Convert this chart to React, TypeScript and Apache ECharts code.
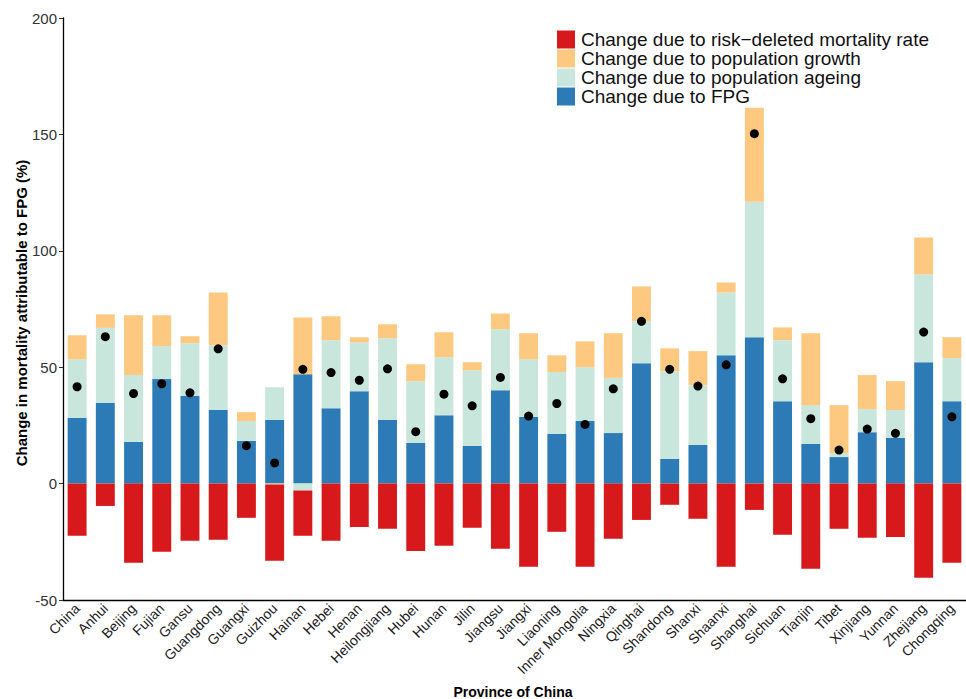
import React, { useEffect, useRef } from "react";
import * as echarts from "echarts";

const provinces = [
  "China", "Anhui", "Beijing", "Fujian", "Gansu", "Guangdong", "Guangxi", "Guizhou",
  "Hainan", "Hebei", "Henan", "Heilongjiang", "Hubei", "Hunan", "Jilin", "Jiangsu",
  "Jiangxi", "Liaoning", "Inner Mongolia", "Ningxia", "Qinghai", "Shandong", "Shanxi",
  "Shaanxi", "Shanghai", "Sichuan", "Tianjin", "Tibet", "Xinjiang", "Yunnan", "Zhejiang",
  "Chongqing",
];

const fpg = [
  28.3, 34.6, 17.9, 44.9, 37.6, 31.6, 18.3, 27.3, 47.0, 32.4, 39.7, 27.3, 17.4, 29.4, 16.1, 40.1,
  28.6, 21.3, 26.9, 21.7, 51.7, 10.6, 16.6, 55.1, 62.9, 35.4, 17.0, 11.4, 22.1, 19.6, 52.1, 35.4,
];

const ageing = [
  25.1, 32.3, 28.7, 14.2, 22.7, 27.8, 8.6, 14.1, -3.0, 29.2, 21.0, 35.1, 26.6, 24.9, 32.6, 26.2,
  24.8, 26.6, 23.1, 23.7, 18.0, 37.7, 25.7, 27.0, 58.2, 26.2, 16.7, 1.7, 9.9, 12.0, 37.8, 18.5,
];

const growth = [
  10.3, 5.8, 25.7, 13.2, 3.0, 22.7, 3.8, -0.4, 24.4, 10.3, 2.2, 6.0, 7.3, 10.7, 3.4, 6.8,
  11.2, 7.2, 11.1, 19.2, 15.0, 9.8, 14.6, 4.3, 40.3, 5.5, 30.9, 20.6, 14.6, 12.4, 15.8, 9.0,
];

const riskDeleted = [
  -22.4, -9.6, -34.0, -29.3, -24.6, -24.1, -14.7, -32.7, -19.4, -24.6, -18.6, -19.4, -28.9, -26.7,
  -19.0, -28.0, -35.7, -20.7, -35.7, -23.7, -15.6, -9.1, -15.1, -35.7, -11.3, -22.0, -36.6, -19.4,
  -23.3, -22.9, -40.4, -34.0,
];

const netChange = [
  41.6, 63.1, 38.7, 42.9, 39.0, 57.9, 16.3, 8.9, 49.1, 47.7, 44.4, 49.3, 22.3, 38.4, 33.4, 45.6,
  29.0, 34.4, 25.4, 40.7, 69.7, 49.1, 41.9, 51.0, 150.3, 45.0, 27.9, 14.4, 23.4, 21.6, 65.1, 28.7,
];

const seriesNames = {
  risk: "Change due to risk\u2212deleted mortality rate",
  growth: "Change due to population growth",
  ageing: "Change due to population ageing",
  fpg: "Change due to FPG",
};

const FONT = "'Liberation Sans', Arial, Helvetica, sans-serif";

export default function App() {
  const ref = useRef<HTMLDivElement>(null);

  useEffect(() => {
    document.body.style.margin = "0";
    if (!ref.current) return;
    const chart = echarts.init(ref.current, undefined, { renderer: "svg" });
    const gridLeft = 63;
    const gridTop = 18;
    const gridWidth = 906;
    const gridHeight = 582;

    const barCommon = {
      type: "bar" as const,
      stack: "total",
      barCategoryGap: "33%",
    };

    chart.setOption({
      animation: false,
      backgroundColor: "#ffffff",
      textStyle: { fontFamily: FONT },
      grid: { left: gridLeft, top: gridTop, width: gridWidth, height: gridHeight, containLabel: false },
      legend: {
        data: [seriesNames.risk, seriesNames.growth, seriesNames.ageing, seriesNames.fpg],
        orient: "vertical",
        left: 557,
        top: 30,
        padding: 0,
        itemWidth: 18,
        itemHeight: 18,
        itemGap: 0,
        icon: "rect",
        selectedMode: false,
        textStyle: { fontSize: 19, color: "#111", fontFamily: FONT, lineHeight: 18, padding: [0, 0, 0, 1] },
      },
      xAxis: {
        type: "category",
        data: provinces,
        boundaryGap: true,
        axisLine: { onZero: false, lineStyle: { color: "#000", width: 1.3 } },
        axisTick: { alignWithLabel: true, length: 4, lineStyle: { color: "#333" } },
        axisLabel: {
          interval: 0,
          rotate: 45,
          fontSize: 14,
          color: "#1a1a1a",
          fontFamily: FONT,
          margin: 6,
        },
        splitLine: { show: false },
      },
      yAxis: {
        type: "value",
        min: -50,
        max: 200,
        interval: 50,
        axisLine: { show: true, onZero: false, lineStyle: { color: "#000", width: 1.3 } },
        axisTick: { show: true, length: 4, lineStyle: { color: "#333" } },
        axisLabel: { fontSize: 15, color: "#333", fontFamily: FONT, margin: 6 },
        splitLine: { show: false },
      },
      graphic: [
        {
          type: "text",
          x: 21,
          y: 313,
          rotation: Math.PI / 2,
          style: {
            text: "Change in mortality attributable to FPG (%)",
            font: `bold 15px ${FONT}`,
            fill: "#000",
            align: "center",
            verticalAlign: "middle",
          },
        },
        {
          type: "text",
          x: 513,
          y: 692,
          style: {
            text: "Province of China",
            font: `bold 14px ${FONT}`,
            fill: "#000",
            align: "center",
            verticalAlign: "middle",
          },
        },
      ],
      series: [
        { ...barCommon, name: seriesNames.fpg, data: fpg, itemStyle: { color: "#2c7bb6" } },
        { ...barCommon, name: seriesNames.ageing, data: ageing, itemStyle: { color: "#c8e6dc" } },
        { ...barCommon, name: seriesNames.growth, data: growth, itemStyle: { color: "#fdc980" } },
        { ...barCommon, name: seriesNames.risk, data: riskDeleted, itemStyle: { color: "#d7191c" } },
        {
          type: "scatter",
          name: "Net change",
          data: netChange,
          symbol: "circle",
          symbolSize: 9,
          itemStyle: { color: "#000", opacity: 1 },
          z: 5,
        },
      ],
    });
    return () => chart.dispose();
  }, []);

  return <div ref={ref} style={{ width: 966, height: 699 }} />;
}
